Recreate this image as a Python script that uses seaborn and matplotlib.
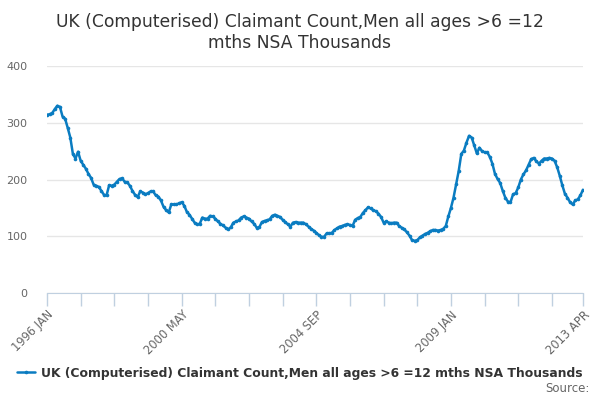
import pandas as pd
import matplotlib.pyplot as plt
import seaborn as sns

# monthly values, Jan 1996 - Apr 2013 (thousands)
values = [
    314, 315, 317, 324, 330, 328, 311, 307, 291, 274, 245, 237,  # 1996
    249, 233, 226, 219, 210, 203, 191, 189, 187, 180, 173, 172,  # 1997
    190, 189, 191, 196, 201, 202, 196, 195, 189, 180, 173, 169,  # 1998
    179, 177, 174, 176, 179, 179, 172, 170, 163, 152, 146, 142,  # 1999
    156, 156, 156, 158, 160, 154, 143, 138, 131, 124, 121, 122,  # 2000
    133, 131, 131, 136, 135, 131, 126, 122, 119, 115, 112, 116,  # 2001
    124, 126, 128, 133, 135, 133, 131, 126, 122, 115, 116, 125,  # 2002
    127, 128, 130, 136, 138, 136, 134, 129, 125, 121, 117, 124,  # 2003
    125, 124, 124, 124, 121, 117, 113, 110, 106, 102, 99, 99,    # 2004
    105, 105, 106, 111, 114, 117, 118, 120, 121, 120, 118, 129,  # 2005
    132, 134, 141, 146, 151, 149, 146, 144, 140, 134, 124, 126,  # 2006
    124, 123, 124, 124, 118, 115, 112, 107, 101, 93, 92, 93,     # 2007
    98, 101, 104, 106, 109, 111, 111, 110, 111, 113, 118, 135,   # 2008
    150, 168, 192, 215, 245, 251, 265, 277, 274, 260, 246, 256,  # 2009
    250, 248, 248, 240, 228, 210, 201, 194, 180, 168, 161, 160,  # 2010
    174, 176, 186, 200, 209, 216, 226, 236, 238, 232, 228, 233,  # 2011
    237, 237, 238, 237, 233, 222, 207, 190, 175, 168, 160, 156,  # 2012
    163, 165, 172, 182,                                          # 2013
]
months = pd.period_range("1996-01", periods=len(values), freq="M")
month_labels = [p.strftime("%Y %b").upper() for p in months]
labelled = ["1996 JAN", "2000 MAY", "2004 SEP", "2009 JAN", "2013 APR"]
y_ticks = [0, 100, 200, 300, 400]

series_name = "UK (Computerised) Claimant Count,Men all ages >6 =12 mths NSA Thousands"
title = "UK (Computerised) Claimant Count,Men all ages >6 =12\nmths NSA Thousands"

df = pd.DataFrame({"idx": range(len(values)), "month": month_labels, "value": values})

sns.set_style("white")
plt.rcParams["font.family"] = ["DejaVu Sans"]

blue = "#0a7cc1"
fig, ax = plt.subplots(figsize=(6, 4), dpi=100)
fig.subplots_adjust(left=47 / 600, right=583 / 600, top=1 - 66 / 400, bottom=1 - 293 / 400)

sns.lineplot(data=df, x="idx", y="value", ax=ax, color=blue, linewidth=1.8,
             marker="o", markersize=2.6, markeredgewidth=0, label=series_name)

ax.set_xlim(0, len(values) - 1)
ax.set_ylim(0, 400)
ax.set_yticks(y_ticks)
ax.yaxis.grid(True, color="#e6e6e6", linewidth=1)
ax.set_axisbelow(True)
ax.tick_params(axis="y", length=0, labelsize=8, labelcolor="#666666", pad=14)

# ticks every 13 months plus the last one, labels every 52
last = len(values) - 1
tick_pos = list(range(0, last, 13)) + [last]
tick_lab = [month_labels[i] if month_labels[i] in labelled else "" for i in tick_pos]
ax.set_xticks(tick_pos)
ax.set_xticklabels(tick_lab, rotation=45, ha="right", va="top", rotation_mode="anchor")
ax.tick_params(axis="x", bottom=True, direction="out", length=9, width=1, color="#c0d0e0",
               labelsize=8.3, labelcolor="#666666", pad=2)

for s in ["top", "right", "left"]:
    ax.spines[s].set_visible(False)
ax.spines["bottom"].set_color("#c0d0e0")
ax.set_xlabel("")
ax.set_ylabel("")

fig.suptitle(title, x=0.5, y=0.968, fontsize=12.3, color="#333333", linespacing=1.2)

leg = ax.legend(loc="center", bbox_to_anchor=(0.5, 1 - 373 / 400), bbox_transform=fig.transFigure,
                frameon=False, handlelength=1.4, handletextpad=0.5, fontsize=8.9)
for t in leg.get_texts():
    t.set_fontweight("bold")
    t.set_color("#333333")

fig.text(590 / 600, 1 - 389 / 400, "Source:", ha="right", va="center", fontsize=8.5, color="#666666")

plt.savefig("out.png", dpi=100)
